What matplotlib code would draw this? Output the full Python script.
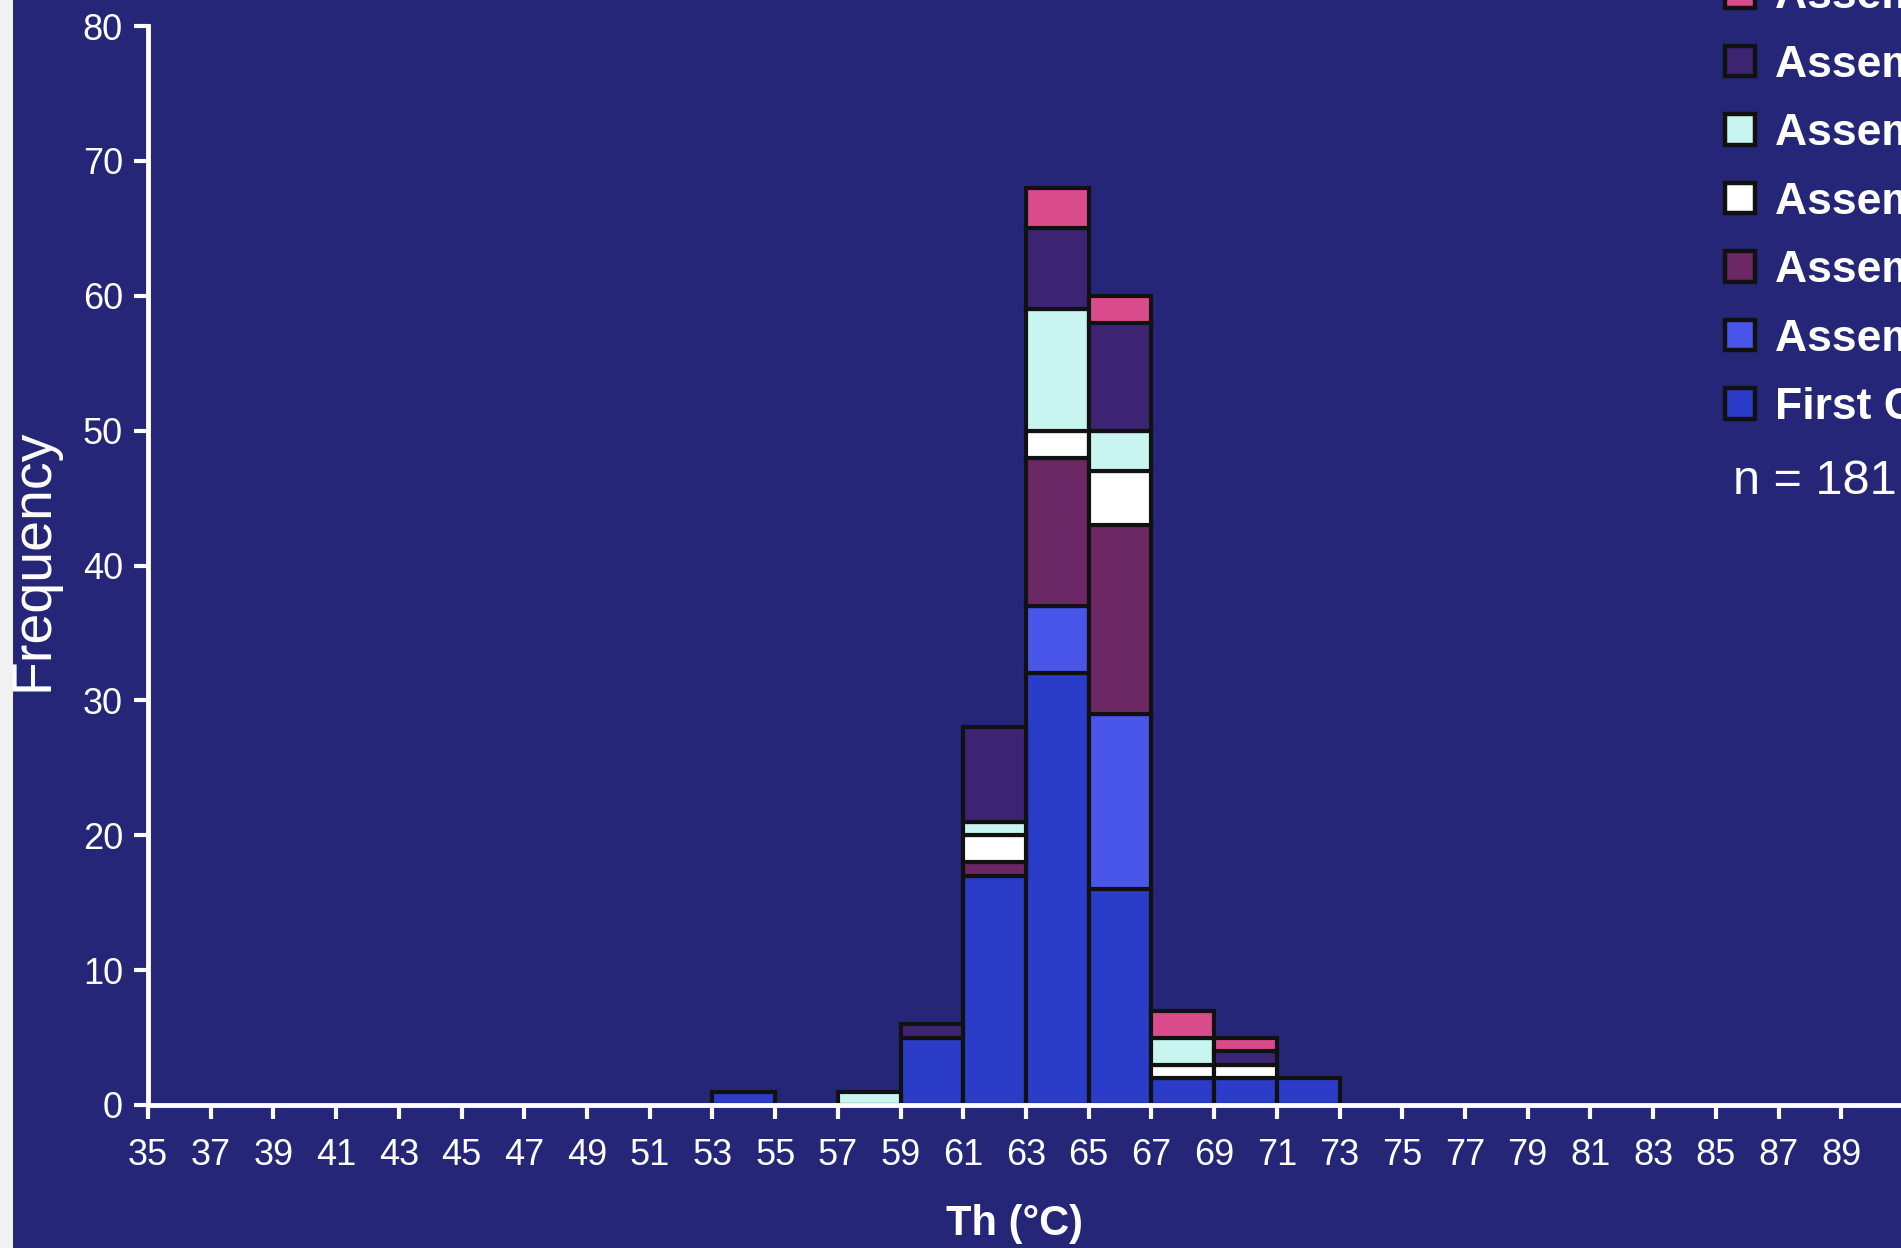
import numpy as np
import matplotlib
matplotlib.use("Agg")
import matplotlib.pyplot as plt
from matplotlib.patches import Rectangle

# Homogenisation temperature bins (left edges, 2 °C wide)
bin_edges = list(range(35, 93, 2))
tick_labels = [str(v) for v in range(35, 91, 2)] + [""]

# Occupied bins and stacked counts per fluid-inclusion group
occupied = [53, 55, 57, 59, 61, 63, 65, 67, 69, 71]
first_c = [1, 0, 0, 5, 17, 32, 16, 2, 2, 2]
assem_blue = [0, 0, 0, 0, 0, 5, 13, 0, 0, 0]
assem_maroon = [0, 0, 0, 0, 1, 11, 14, 0, 0, 0]
assem_white = [0, 0, 0, 0, 2, 2, 4, 1, 1, 0]
assem_cyan = [0, 0, 1, 0, 1, 9, 3, 2, 0, 0]
assem_purple = [0, 0, 0, 1, 7, 6, 8, 0, 1, 0]
assem_pink = [0, 0, 0, 0, 0, 3, 2, 2, 1, 0]

series = [
    ("First Cycle", first_c, "#2B3CC8"),
    ("Assemblage 6", assem_blue, "#4A55EA"),
    ("Assemblage 5", assem_maroon, "#6C2864"),
    ("Assemblage 4", assem_white, "#FFFFFF"),
    ("Assemblage 3", assem_cyan, "#C8F5F0"),
    ("Assemblage 2", assem_purple, "#3C2473"),
    ("Assemblage 1", assem_pink, "#DA4B8C"),
]
n_total_label = "n = 181"

BG = "#252677"
W, H = 1901, 1248
fig = plt.figure(figsize=(W / 100, H / 100), dpi=100, facecolor=BG)

# white border strip along the left edge
fig.patches.append(Rectangle((0, 0), 13 / W, 1, transform=fig.transFigure,
                             facecolor="#F2F2F2", edgecolor="none", zorder=0))

x0_px, x1_px = 148, 1904
y0_px, y1_px = 1105, 26  # from top
ax = fig.add_axes([x0_px / W, (H - y0_px) / H, (x1_px - x0_px) / W, (y0_px - y1_px) / H])
ax.set_facecolor("none")

x = np.array(occupied, dtype=float)
bottom = np.zeros(len(occupied))
handles = []
for label, vals, color in series:
    v = np.array(vals, dtype=float)
    idx = v > 0
    bars = ax.bar(x[idx], v[idx], width=2, bottom=bottom[idx], align="edge",
                  color=color, edgecolor="#111111", linewidth=3.0, label=label, zorder=2)
    handles.append(bars)
    bottom += v

ax.set_xlim(35, 91)
ax.set_ylim(0, 80)
ax.set_xticks(bin_edges)
ax.set_xticklabels(tick_labels)
ax.set_yticks(range(0, 81, 10))

for side in ("top", "right"):
    ax.spines[side].set_visible(False)
for side in ("left", "bottom"):
    ax.spines[side].set_color("white")
    ax.spines[side].set_linewidth(3.5)
    ax.spines[side].set_zorder(3)

ax.tick_params(axis="both", colors="white", width=3.0, length=10, direction="out",
               labelsize=26)
ax.tick_params(axis="x", pad=14)
ax.tick_params(axis="y", pad=8)
for t in ax.get_xticklabels() + ax.get_yticklabels():
    t.set_fontfamily("Liberation Sans")

fig.text(34 / W, 1 - 560 / H, "Frequency", rotation=90, ha="center", va="center",
         color="white", fontsize=40, fontfamily="Liberation Sans")
fig.text(1014 / W, 1 - 1224 / H, "Th (°C)", ha="center", va="center",
         color="white", fontsize=30, fontweight="bold", fontfamily="Liberation Sans")

leg = fig.legend(handles=handles[::-1], labels=[s[0] for s in series][::-1],
                 loc="upper left", bbox_to_anchor=(1725 / W, 1 + 24 / H),
                 frameon=False, labelcolor="white",
                 handlelength=0.68, handleheight=0.68, handletextpad=0.45,
                 labelspacing=0.62, borderaxespad=0, borderpad=0,
                 prop={"family": "Liberation Sans", "weight": "bold", "size": 32})
for p in leg.get_patches():
    p.set_edgecolor("#111111")
    p.set_linewidth(3.2)

fig.text(1733 / W, 1 - 481 / H, n_total_label, ha="left", va="center",
         color="white", fontsize=35, fontfamily="Liberation Sans")

fig.savefig("out.png", dpi=100, facecolor=BG)
